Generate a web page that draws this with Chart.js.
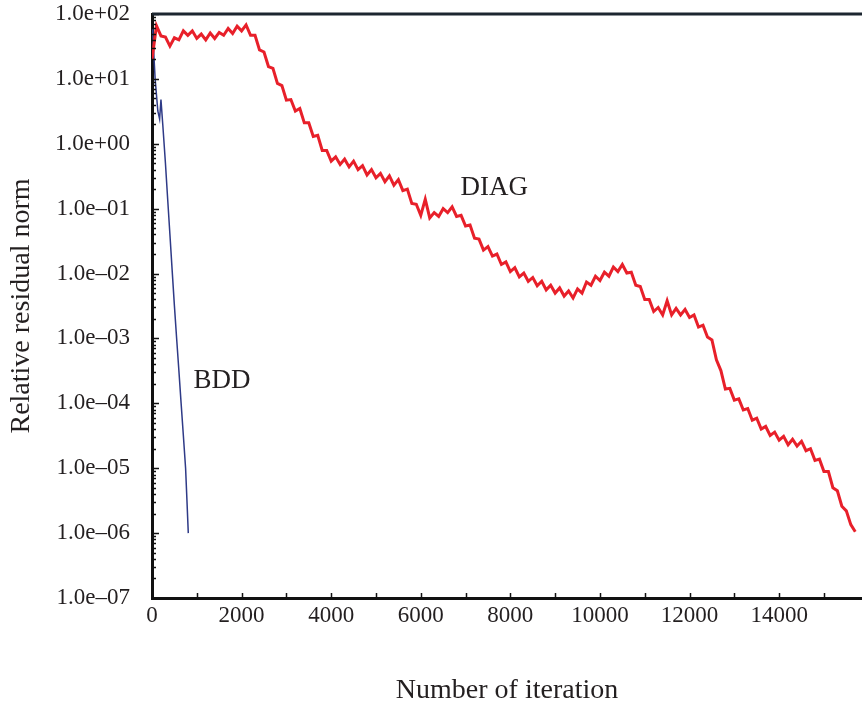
<!DOCTYPE html>
<html>
<head>
<meta charset="utf-8">
<script src="https://cdn.jsdelivr.net/npm/chart.js@4.4.1/dist/chart.umd.min.js"></script>
<style>
  html, body { margin: 0; padding: 0; background: #fff; }
  #wrap { width: 862px; height: 703px; }
</style>
</head>
<body>
<div id="wrap"><canvas id="residualChart" width="862" height="703"></canvas></div>
<script>
// DIAG: residual every 100 iterations
const diagIter = [
    0, 100, 200, 300, 400, 500, 600, 700, 800, 900,
    1000, 1100, 1200, 1300, 1400, 1500, 1600, 1700, 1800, 1900,
    2000, 2100, 2200, 2300, 2400, 2500, 2600, 2700, 2800, 2900,
    3000, 3100, 3200, 3300, 3400, 3500, 3600, 3700, 3800, 3900,
    4000, 4100, 4200, 4300, 4400, 4500, 4600, 4700, 4800, 4900,
    5000, 5100, 5200, 5300, 5400, 5500, 5600, 5700, 5800, 5900,
    6000, 6100, 6200, 6300, 6400, 6500, 6600, 6700, 6800, 6900,
    7000, 7100, 7200, 7300, 7400, 7500, 7600, 7700, 7800, 7900,
    8000, 8100, 8200, 8300, 8400, 8500, 8600, 8700, 8800, 8900,
    9000, 9100, 9200, 9300, 9400, 9500, 9600, 9700, 9800, 9900,
    10000, 10100, 10200, 10300, 10400, 10500, 10600, 10700, 10800, 10900,
    11000, 11100, 11200, 11300, 11400, 11500, 11600, 11700, 11800, 11900,
    12000, 12100, 12200, 12300, 12400, 12500, 12600, 12700, 12800, 12900,
    13000, 13100, 13200, 13300, 13400, 13500, 13600, 13700, 13800, 13900,
    14000, 14100, 14200, 14300, 14400, 14500, 14600, 14700, 14800, 14900,
    15000, 15100, 15200, 15300, 15400, 15500, 15600, 15700
];
const diagResidual = [
    20, 66, 46, 44, 32, 43, 40, 55, 47, 55,
    42, 49, 40, 51, 42, 52, 47, 60, 50, 65,
    55, 68, 47, 47, 28, 26, 15.5, 14.5, 8.5, 7.9,
    4.7, 4.8, 3.2, 3.5, 2.1, 2.1, 1.3, 1.35, 0.79, 0.79,
    0.54, 0.63, 0.48, 0.58, 0.44, 0.54, 0.40, 0.46, 0.33, 0.40,
    0.30, 0.35, 0.26, 0.32, 0.23, 0.28, 0.19, 0.20, 0.12, 0.117,
    0.079, 0.14, 0.072, 0.087, 0.076, 0.10, 0.087, 0.107, 0.076, 0.079,
    0.054, 0.056, 0.035, 0.034, 0.023, 0.026, 0.0186, 0.020, 0.0138, 0.0151,
    0.0107, 0.0123, 0.0089, 0.0102, 0.0076, 0.0087, 0.0065, 0.0076, 0.0056, 0.0066,
    0.0050, 0.0060, 0.0045, 0.0054, 0.0042, 0.0058, 0.0050, 0.0074, 0.0066, 0.0091,
    0.0078, 0.0105, 0.0091, 0.0126, 0.0107, 0.0138, 0.0102, 0.0105, 0.0066, 0.0063,
    0.0040, 0.0040, 0.0026, 0.0030, 0.0023, 0.0038, 0.0023, 0.0029, 0.0023, 0.0028,
    0.0021, 0.0023, 0.0015, 0.0016, 0.00105, 0.00095, 0.00047, 0.00032, 0.000166, 0.00017,
    1.12e-4, 1.17e-4, 7.9e-5, 8.3e-5, 5.5e-5, 5.9e-5, 4.0e-5, 4.4e-5, 3.2e-5, 3.6e-5,
    2.7e-5, 3.1e-5, 2.3e-5, 2.8e-5, 2.2e-5, 2.6e-5, 1.86e-5, 2.0e-5, 1.32e-5, 1.38e-5,
    8.9e-6, 8.9e-6, 5.0e-6, 4.5e-6, 2.6e-6, 2.2e-6, 1.35e-6, 1.05e-6
];

// BDD converges in about 800 iterations
const bddIter = [0, 20, 70, 130, 170, 200, 240, 300, 350, 400, 450, 500, 550, 600, 650, 700, 750, 780, 810];
const bddResidual = [60, 45, 10, 3.2, 2.4, 4.8, 2.0, 0.5, 0.14, 0.04, 0.0112, 0.0032, 0.001,
    3.2e-4, 1.0e-4, 3.2e-5, 1.0e-5, 3.2e-6, 1.0e-6];

const xTickValues = [0, 1000, 2000, 3000, 4000, 5000, 6000, 7000, 8000, 9000,
    10000, 11000, 12000, 13000, 14000, 15000];
const xLabelValues = [0, 2000, 4000, 6000, 8000, 10000, 12000, 14000];
const yDecades = [1e-7, 1e-6, 1e-5, 1e-4, 1e-3, 1e-2, 1e-1, 1e0, 1e1, 1e2];

// where the curve names sit, in data units
const seriesNotes = [
    { text: 'DIAG', x: 7640, y: 0.21 },
    { text: 'BDD', x: 1560, y: 2.2e-4 }
];

const serif = '"Liberation Serif", "Times New Roman", serif';
const ink = '#231f20';

// decades plus the 2..9 minor steps inside each one
const yTickValues = [];
yDecades.forEach(function(d, i) {
    if (i === yDecades.length - 1) { yTickValues.push(d); return; }
    for (let k = 1; k <= 9; k++) yTickValues.push(d * k);
});

function sciLabel(v) {
    const e = Math.round(Math.log10(v));
    const sign = e < 0 ? '\u2013' : '+';
    return '1.0e' + sign + String(Math.abs(e)).padStart(2, '0');
}

// ticks point into the plot, plus the top frame line and the curve names
const framePlugin = {
    id: 'frame',
    afterDraw(chart) {
        const ctx = chart.ctx;
        const area = chart.chartArea;
        const xs = chart.scales.x;
        const ys = chart.scales.y;

        ctx.save();
        ctx.strokeStyle = '#111';
        ctx.lineWidth = 1.5;
        ctx.beginPath();
        ys.ticks.forEach(function(t) {
            const py = Math.round(ys.getPixelForValue(t.value)) + 0.5;
            const len = yDecades.includes(t.value) ? 7 : 4;
            ctx.moveTo(area.left, py);
            ctx.lineTo(area.left + len, py);
        });
        xs.ticks.forEach(function(t) {
            const px = Math.round(xs.getPixelForValue(t.value)) + 0.5;
            ctx.moveTo(px, area.bottom);
            ctx.lineTo(px, area.bottom - 5);
        });
        ctx.stroke();

        ctx.strokeStyle = '#1c2630';
        ctx.lineWidth = 3;
        ctx.beginPath();
        ctx.moveTo(area.left, area.top);
        ctx.lineTo(area.right, area.top);
        ctx.stroke();

        ctx.fillStyle = ink;
        ctx.font = '27px ' + serif;
        ctx.textAlign = 'center';
        ctx.textBaseline = 'middle';
        seriesNotes.forEach(function(n) {
            ctx.fillText(n.text, xs.getPixelForValue(n.x), ys.getPixelForValue(n.y));
        });
        ctx.restore();
    }
};

document.addEventListener('DOMContentLoaded', function() {
    const ctx = document.getElementById('residualChart');

    new Chart(ctx, {
        type: 'line',
        data: {
            datasets: [{
                label: 'DIAG',
                data: diagIter.map(function(it, i) { return { x: it, y: diagResidual[i] }; }),
                borderColor: '#e8202a',
                borderWidth: 3,
                pointRadius: 0,
                tension: 0
            }, {
                label: 'BDD',
                data: bddIter.map(function(it, i) { return { x: it, y: bddResidual[i] }; }),
                borderColor: '#2e3a87',
                borderWidth: 1.5,
                pointRadius: 0,
                tension: 0
            }]
        },
        options: {
            responsive: false,
            animation: false,
            devicePixelRatio: 1,
            layout: { padding: { top: 14, right: 0, bottom: 0, left: 0 } },
            plugins: {
                legend: { display: false },
                tooltip: { enabled: false }
            },
            scales: {
                x: {
                    type: 'linear',
                    min: 0,
                    max: 15850,
                    afterFit: function(scale) { scale.height = 105; },
                    afterBuildTicks: function(scale) {
                        scale.ticks = xTickValues.map(function(v) { return { value: v }; });
                    },
                    grid: { display: false, drawTicks: false },
                    border: { display: true, color: '#111', width: 3 },
                    ticks: {
                        autoSkip: false,
                        maxRotation: 0,
                        padding: 4,
                        color: ink,
                        font: { family: serif, size: 23 },
                        callback: function(v) { return xLabelValues.includes(v) ? String(v) : ''; }
                    },
                    title: {
                        display: true,
                        text: 'Number of iteration',
                        color: ink,
                        font: { family: serif, size: 28, lineHeight: 1 },
                        padding: { top: 0, bottom: -2 }
                    }
                },
                y: {
                    type: 'logarithmic',
                    min: 1e-7,
                    max: 1e2,
                    afterFit: function(scale) { scale.width = 152; },
                    afterBuildTicks: function(scale) {
                        scale.ticks = yTickValues.map(function(v) { return { value: v }; });
                    },
                    // invisible tick marks only push the labels away from the axis
                    grid: {
                        display: true,
                        drawOnChartArea: false,
                        drawTicks: true,
                        tickLength: 22,
                        tickColor: 'rgba(0,0,0,0)'
                    },
                    border: { display: true, color: '#111', width: 3 },
                    ticks: {
                        autoSkip: false,
                        padding: 0,
                        color: ink,
                        font: { family: serif, size: 23 },
                        callback: function(v) { return yDecades.includes(v) ? sciLabel(v) : ''; }
                    },
                    title: {
                        display: true,
                        text: 'Relative residual norm',
                        color: ink,
                        font: { family: serif, size: 28, lineHeight: 1 },
                        padding: { top: 8, bottom: 0 }
                    }
                }
            }
        },
        plugins: [framePlugin]
    });
});
</script>
</body>
</html>
